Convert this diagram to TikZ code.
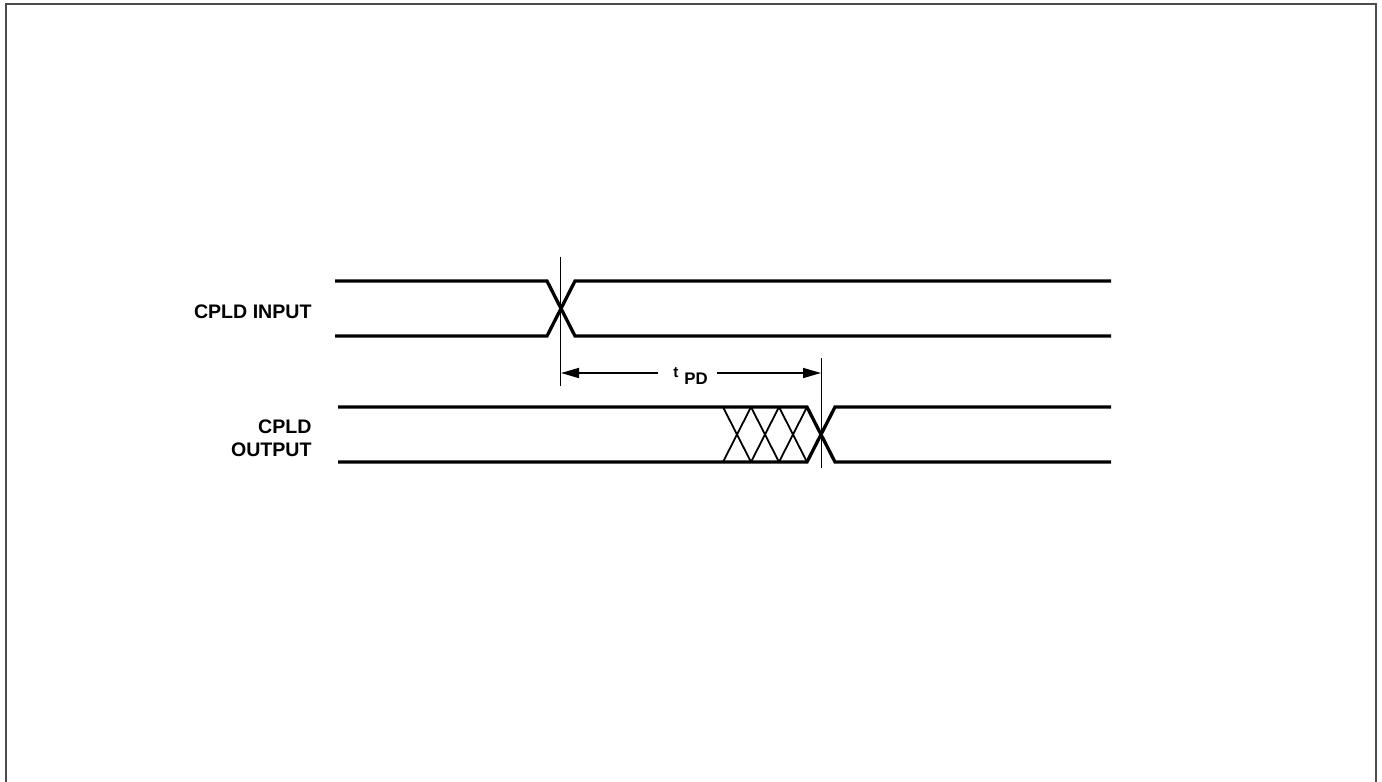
\documentclass[tikz,border=0pt]{standalone}
\usepackage{fontspec}
\setmainfont{Liberation Sans}
\usetikzlibrary{arrows.meta}
\begin{document}
\begin{tikzpicture}[x=0.5pt,y=-0.5pt,
  sig/.style={line width=1.65pt,line join=miter},
  hatch/.style={line width=0.9pt},
  marker/.style={line width=0.8pt},
  dim/.style={line width=0.8pt,-{Triangle[length=9pt,width=5pt]}},
  lbl/.style={font=\fontsize{9.8}{11.25}\selectfont\bfseries,inner sep=0pt,align=right},
  frame/.style={line width=1pt,draw=black!70}]
\useasboundingbox (0,0) rectangle (1382,782);
\draw[frame] (5.5,800) -- (5.5,4) -- (1375.5,4) -- (1375.5,800);
% labels
\node[lbl,anchor=east] (inlbl) at (312,312) {CPLD INPUT};
\node[lbl,anchor=east] (outlbl) at (312,438) {CPLD\\OUTPUT};
% input signal
\draw[sig] (335,281) -- (547,281) -- (575,336) -- (1111,336);
\draw[sig] (335,336) -- (547,336) -- (575,281) -- (1111,281);
% output signal
\draw[sig] (338,407) -- (807,407) -- (835,462) -- (1111,462);
\draw[sig] (338,462) -- (807,462) -- (835,407) -- (1111,407);
% hatch
\foreach \a/\b in {723/751,751/779,779/807}{
  \draw[hatch] (\a,407) -- (\b,462);
  \draw[hatch] (\a,462) -- (\b,407);
}
% markers
\coordinate (m1top) at (560.5,257);
\coordinate (m1bot) at (560.5,386);
\coordinate (m2top) at (821.5,358);
\coordinate (m2bot) at (821.5,468);
\draw[marker] (m1top) -- (m1bot);
\draw[marker] (m2top) -- (m2bot);
% tpd label and dimension arrows
\node[inner sep=0pt,anchor=base west] (tpd) at (673,377)
  {\fontsize{7.6}{9}\selectfont\bfseries t\hspace{3pt}\raisebox{-3.5pt}{\fontsize{8.4}{9}\selectfont\bfseries PD}};
\coordinate (la) at (658,373);
\coordinate (ra) at (717,373);
\coordinate (lm) at (561,373);
\coordinate (rm) at (821,373);
\draw[dim] (la) -- (lm);
\draw[dim] (ra) -- (rm);
\end{tikzpicture}
\end{document}
